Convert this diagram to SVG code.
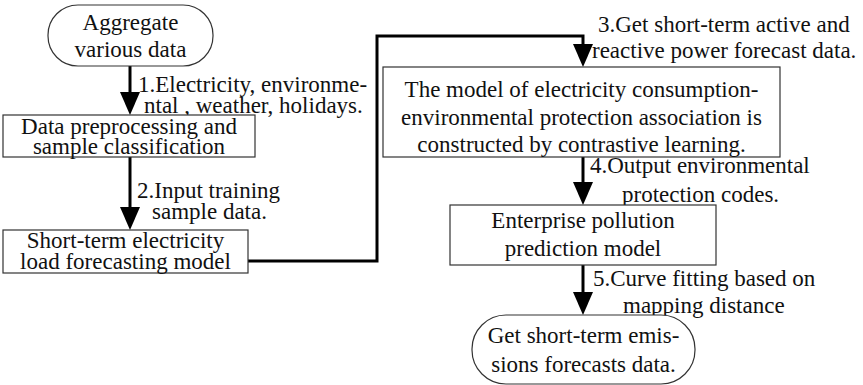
<svg xmlns="http://www.w3.org/2000/svg" width="863" height="385" viewBox="0 0 863 385">
<g id="connectors">
<g fill="none" stroke="#000" stroke-width="3">
<line x1="130" y1="66" x2="130" y2="100"/>
<line x1="130" y1="157" x2="130" y2="215"/>
<path d="M248,261 H377 V36 H583 V52"/>
<line x1="583" y1="157" x2="583" y2="190"/>
<line x1="583" y1="265" x2="583" y2="300"/>
</g>
<g fill="#000">
<polygon points="120,92 140,92 130,115"/>
<polygon points="120,207 140,207 130,230"/>
<polygon points="573,44 593,44 583,67"/>
<polygon points="573,182 593,182 583,205"/>
<polygon points="573,292 593,292 583,315"/>
</g>
</g>
<g id="labels">
<text font-family="Liberation Serif" font-size="23" fill="#111" x="138" y="92">1.Electricity, environme-</text>
<text font-family="Liberation Serif" font-size="23" fill="#111" x="144" y="113">ntal , weather, holidays.</text>
<text font-family="Liberation Serif" font-size="23" fill="#111" x="137" y="198">2.Input training</text>
<text font-family="Liberation Serif" font-size="23" fill="#111" x="152" y="219">sample data.</text>
<text font-family="Liberation Serif" font-size="23" fill="#111" x="598" y="32">3.Get short-term active and</text>
<text font-family="Liberation Serif" font-size="23" fill="#111" x="592" y="58">reactive power forecast data.</text>
<text font-family="Liberation Serif" font-size="23" fill="#111" x="590" y="173">4.Output environmental</text>
<text font-family="Liberation Serif" font-size="23" fill="#111" x="622" y="202">protection codes.</text>
<text font-family="Liberation Serif" font-size="23" fill="#111" x="593" y="286">5.Curve fitting based on</text>
<text font-family="Liberation Serif" font-size="23" fill="#111" x="623" y="313">mapping distance</text>
</g>
<g id="node-aggregate">
<rect x="48" y="5" width="165" height="61" rx="30" ry="30" fill="#fff" stroke="#333" stroke-width="1.2"/>
<text font-family="Liberation Serif" font-size="23" fill="#111" text-anchor="middle" x="130.5" y="30">Aggregate</text>
<text font-family="Liberation Serif" font-size="23" fill="#111" text-anchor="middle" x="130.5" y="57">various data</text>
</g>
<g id="node-preprocess">
<rect x="3" y="115" width="252" height="42" fill="#fff" stroke="#333" stroke-width="1.2"/>
<text font-family="Liberation Serif" font-size="23" fill="#111" text-anchor="middle" x="129" y="134">Data preprocessing and</text>
<text font-family="Liberation Serif" font-size="23" fill="#111" text-anchor="middle" x="129" y="154">sample classification</text>
</g>
<g id="node-load">
<rect x="3" y="230" width="245" height="43" fill="#fff" stroke="#333" stroke-width="1.2"/>
<text font-family="Liberation Serif" font-size="23" fill="#111" text-anchor="middle" x="125.5" y="248">Short-term electricity</text>
<text font-family="Liberation Serif" font-size="23" fill="#111" text-anchor="middle" x="125.5" y="269">load forecasting model</text>
</g>
<g id="node-association">
<rect x="383" y="67" width="397" height="90" fill="#fff" stroke="#333" stroke-width="1.2"/>
<text font-family="Liberation Serif" font-size="23" fill="#111" text-anchor="middle" x="581.5" y="97">The model of electricity consumption-</text>
<text font-family="Liberation Serif" font-size="23" fill="#111" text-anchor="middle" x="581.5" y="125">environmental protection association is</text>
<text font-family="Liberation Serif" font-size="23" fill="#111" text-anchor="middle" x="581.5" y="152">constructed by contrastive learning.</text>
</g>
<g id="node-pollution">
<rect x="450" y="205" width="266" height="60" fill="#fff" stroke="#333" stroke-width="1.2"/>
<text font-family="Liberation Serif" font-size="23" fill="#111" text-anchor="middle" x="583" y="228">Enterprise pollution</text>
<text font-family="Liberation Serif" font-size="23" fill="#111" text-anchor="middle" x="583" y="256">prediction model</text>
</g>
<g id="node-emissions">
<rect x="472" y="315" width="223" height="69" rx="34" ry="34" fill="#fff" stroke="#333" stroke-width="1.2"/>
<text font-family="Liberation Serif" font-size="23" fill="#111" text-anchor="middle" x="583.5" y="343">Get short-term emis-</text>
<text font-family="Liberation Serif" font-size="23" fill="#111" text-anchor="middle" x="583.5" y="372">sions forecasts data.</text>
</g>
</svg>
